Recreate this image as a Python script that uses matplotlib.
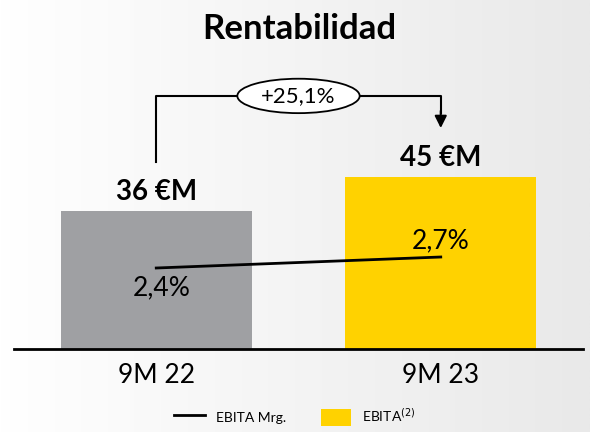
import numpy as np
import matplotlib
matplotlib.use('Agg')
import matplotlib.pyplot as plt
from matplotlib.patches import Ellipse, Patch
from matplotlib.lines import Line2D
from matplotlib.colors import LinearSegmentedColormap

plt.rcParams['font.family'] = ['Lato', 'DejaVu Sans']

# データ
periods = ['9M 22', '9M 23']
ebita = [36, 45]            # €M
ebita_mrg = [2.4, 2.7]      # %
ebita_labels = ['36 €M', '45 €M']
mrg_labels = ['2,4%', '2,7%']
growth_label = '+25,1%'

bar_colors = ['#9FA0A3', '#FFD200']

fig = plt.figure(figsize=(5.9, 4.32), dpi=100)

# 背景のグラデーション
bg = fig.add_axes([0, 0, 1, 1], zorder=-10)
cmap = LinearSegmentedColormap.from_list('bg', ['#FFFFFF', '#E9E9E9'])
bg.imshow(np.linspace(0, 1, 256).reshape(1, -1), aspect='auto', cmap=cmap,
          extent=[0, 1, 0, 1])
bg.axis('off')

ax = fig.add_axes([14 / 590, 83 / 432, 569 / 590, 289 / 432])
ax.patch.set_alpha(0)
x = np.arange(len(periods))
ax.bar(x, ebita, width=0.67, color=bar_colors, zorder=2)
ax.set_xlim(-0.5, 1.5)
ax.set_ylim(0, 75.6)

for s in ['top', 'right', 'left']:
    ax.spines[s].set_visible(False)
ax.spines['bottom'].set_linewidth(2)
ax.set_yticks([])
ax.set_xticks(x)
ax.set_xticklabels(periods, fontsize=19)
ax.tick_params(axis='x', length=0, pad=10)

# 値ラベル
for xi, v, lab in zip(x, ebita, ebita_labels):
    ax.text(xi, v + 3, lab, ha='center', va='baseline', fontsize=20,
            fontweight='bold')

# 成長の矢印
off = 12.8
top = 66.2
ax.plot([x[0], x[0], x[1], x[1]], [ebita[0] + off, top, top, ebita[1] + off + 4],
        color='black', lw=1.5, zorder=3)
ax.annotate('', xy=(x[1], ebita[1] + off), xytext=(x[1], ebita[1] + off + 4.5),
            arrowprops=dict(arrowstyle='-|>', color='black', lw=1.5,
                            mutation_scale=18, shrinkA=0, shrinkB=0))
ax.add_patch(Ellipse((0.5, top), 0.43, 9.0, facecolor='white',
                     edgecolor='black', lw=1.3, zorder=4))
ax.text(0.5, top, growth_label, ha='center', va='center', fontsize=16,
        zorder=5)

# マージン（第2軸）
ax2 = ax.twinx()
ax2.set_ylim(0.191, 8.073)
ax2.axis('off')
ax2.plot(x, ebita_mrg, color='black', lw=2, zorder=5)
ax2.annotate(mrg_labels[0], (x[0], ebita_mrg[0]), xytext=(4, -14.5),
             textcoords='offset points', ha='center', va='center', fontsize=19)
ax2.annotate(mrg_labels[1], (x[1], ebita_mrg[1]), xytext=(0, 11.5),
             textcoords='offset points', ha='center', va='center', fontsize=19)

fig.text(0.507, 1 - 29 / 432, 'Rentabilidad', ha='center', va='center',
         fontsize=25, fontweight='bold')

handles = [Line2D([0], [0], color='black', lw=2),
           Patch(facecolor=bar_colors[1])]
fig.legend(handles, ['EBITA Mrg.', 'EBITA$^{(2)}$'], loc='center',
           bbox_to_anchor=(0.5, 16 / 432), ncol=2, frameon=False, fontsize=10,
           handlelength=2.2, handleheight=1.5, columnspacing=2.5)

fig.savefig('out.png', dpi=100)
